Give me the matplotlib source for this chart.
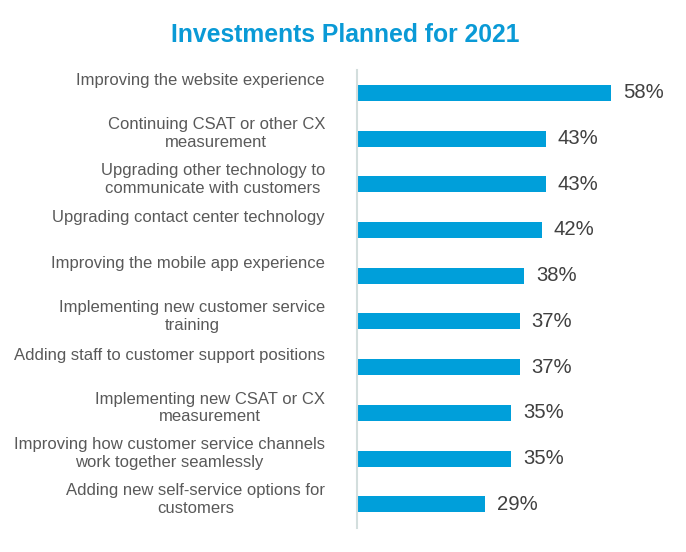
import matplotlib
matplotlib.use("Agg")
import matplotlib.pyplot as plt
from matplotlib.transforms import offset_copy, blended_transform_factory

plt.rcParams['font.family'] = ['Liberation Sans', 'DejaVu Sans']

categories = [
    "Improving the website experience",
    "Continuing CSAT or other CX\nmeasurement",
    "Upgrading other technology to\ncommunicate with customers",
    "Upgrading contact center technology",
    "Improving the mobile app experience",
    "Implementing new customer service\ntraining",
    "Adding staff to customer support positions",
    "Implementing new CSAT or CX\nmeasurement",
    "Improving how customer service channels\nwork together seamlessly",
    "Adding new self-service options for\ncustomers",
]
values = [58, 43, 43, 42, 38, 37, 37, 35, 35, 29]
value_labels = [f"{v}%" for v in values]
title = "Investments Planned for 2021"

W, H, DPI = 686, 552, 100
fig = plt.figure(figsize=(W / DPI, H / DPI), dpi=DPI)
fig.patch.set_facecolor("white")

ax_left, ax_right, ax_top, ax_bot = 357, 650, 70, 528
ax = fig.add_axes([ax_left / W, 1 - ax_bot / H, (ax_right - ax_left) / W, (ax_bot - ax_top) / H])
px_per_unit = 4.362
ax.set_xlim(0, (ax_right - ax_left) / px_per_unit)
n = len(categories)
ax.set_ylim(n - 0.5 + 0.02, -0.5 + 0.0)

bar_color = "#009FDA"
ys = list(range(n))
ax.barh(ys, values, height=0.35, color=bar_color, left=0.3)

for s in ["top", "right", "bottom"]:
    ax.spines[s].set_visible(False)
ax.spines["left"].set_color("#D3DEDD")
ax.spines["left"].set_linewidth(1.5)
ax.set_xticks([])
ax.set_yticks([])

trans_lbl = blended_transform_factory(ax.transAxes, ax.transData)
for y, cat in zip(ys, categories):
    dy = -8.5 if "\n" in cat else 7.5
    t = offset_copy(trans_lbl, fig=fig, x=-32, y=dy, units="dots")
    ax.text(0, y, cat, transform=t, ha="right", va="baseline", multialignment="center",
            fontsize=12, color="#595959", linespacing=1.22)

for y, v, lab in zip(ys, values, value_labels):
    t = offset_copy(ax.transData, fig=fig, x=12, y=0, units="dots")
    ax.text(v + 0.3, y, lab, transform=t, ha="left", va="center",
            fontsize=14.6, color="#404040")

fig.text(345 / W, 1 - 42 / H, title, ha="center", va="baseline",
         fontsize=17.8, fontweight="bold", color="#0A9AD6")

fig.savefig("out.png", dpi=DPI)
